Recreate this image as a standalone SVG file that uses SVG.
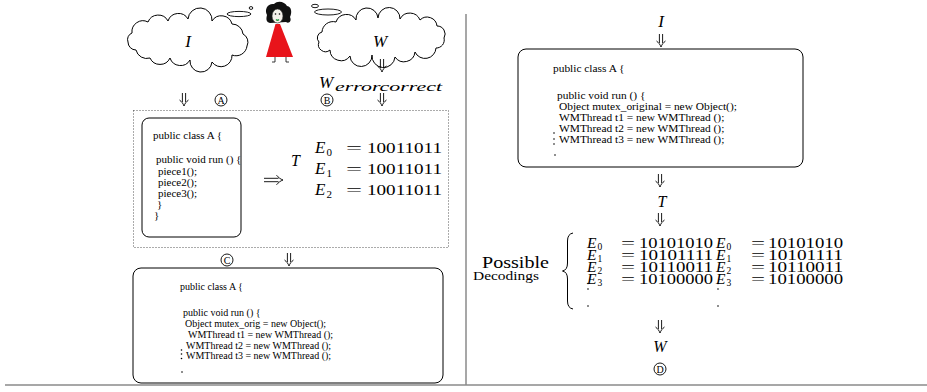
<svg xmlns="http://www.w3.org/2000/svg" xmlns:xlink="http://www.w3.org/1999/xlink" width="927" height="392" viewBox="0 0 927 392">
  <style>
    .code { font-family: "Liberation Serif", "Times New Roman", serif; font-size: 11px; fill: #000; }
    .code-r { font-family: "Liberation Serif", "Times New Roman", serif; font-size: 11.4px; fill: #000; }
    .code-s { font-family: "Liberation Serif", "Times New Roman", serif; font-size: 10px; fill: #000; }
    .math { font-family: "Liberation Serif", "Times New Roman", serif; font-size: 15px; fill: #000; }
    .var { font-family: "Liberation Serif", "Times New Roman", serif; font-size: 17px; font-style: italic; fill: #000; }
    .ev { font-family: "Liberation Serif", "Times New Roman", serif; font-size: 17px; font-style: italic; fill: #000; }
    .ev-s { font-family: "Liberation Serif", "Times New Roman", serif; font-size: 15.5px; font-style: italic; fill: #000; }
    .sub { font-family: "Liberation Serif", "Times New Roman", serif; font-size: 11px; fill: #000; }
    .sub-s { font-family: "Liberation Serif", "Times New Roman", serif; font-size: 9.5px; fill: #000; }
    .box { fill: #fff; stroke: #000; stroke-width: 1; }
    .cloud { fill: #fff; stroke: #000; stroke-width: 1; }
    .ring { fill: none; stroke: #000; stroke-width: 0.9; }
    .lbl { font-family: "Liberation Serif", "Times New Roman", serif; font-size: 10px; fill: #000; text-anchor: middle; }
    .arr { fill: none; stroke: #000; stroke-width: 0.9; }
    .rule { stroke: #8a8a8a; stroke-width: 1.5; }
    .dot { fill: #000; }
  </style>
  <defs>
    <!-- double down arrow, origin at top centre -->
    <g id="dn" class="arr">
      <path d="M-1.6,0 V9 M1.6,0 V9"/>
      <path d="M-4.5,7 C-2.4,8.6 -0.8,10.6 0,13 C0.8,10.6 2.4,8.6 4.5,7"/>
    </g>
    <!-- double right arrow, origin at left middle -->
    <g id="rt" class="arr">
      <path d="M0,-1.7 H14.5 M0,1.7 H14.5"/>
      <path d="M12.5,-4.8 C14.3,-2.6 16.4,-0.9 19,0 C16.4,0.9 14.3,2.6 12.5,4.8"/>
    </g>
  </defs>

  <rect width="927" height="392" fill="#fff"/>

  <!-- page rules -->
  <line class="rule" x1="466" y1="14" x2="466" y2="385"/>
  <line class="rule" x1="5" y1="385" x2="927" y2="385"/>

  <!-- thought cloud holding I -->
  <g id="cloud-i">
    <path class="cloud" d="M132,33 A11,11 0 0 1 148,22 A11,11 0 0 1 168,21 A11,11 0 0 1 188,19 A11,11 0 0 1 212,21 A11,11 0 0 1 232,24 A11,11 0 0 1 243,34 A9,9 0 0 1 247,46 A11,11 0 0 1 232,55 A11,11 0 0 1 212,62 A11,11 0 0 1 190,60 A11,11 0 0 1 170,58 A11,11 0 0 1 150,58 A11,11 0 0 1 136,50 A8,8 0 0 1 128,42 A7,7 0 0 1 132,33 Z"/>
    <ellipse class="ring" cx="239" cy="14" rx="12" ry="2.6"/>
    <ellipse class="ring" cx="251" cy="8" rx="1.8" ry="1.4"/>
    <text class="var" x="188" y="47" text-anchor="middle">I</text>
  </g>

  <!-- thought cloud holding W -->
  <g id="cloud-w">
    <path class="cloud" d="M322,32 A11,11 0 0 1 336,22 A11,11 0 0 1 356,20 A11,11 0 0 1 378,18 A11,11 0 0 1 400,19 A11,11 0 0 1 420,20 A10,10 0 0 1 437,26 A8,8 0 0 1 444,38 A8,8 0 0 1 436,48 A11,11 0 0 1 415,52 A11,11 0 0 1 395,57 A11,11 0 0 1 372,55 A11,11 0 0 1 350,56 A11,11 0 0 1 330,50 A7,7 0 0 1 319,42 A6,6 0 0 1 322,32 Z"/>
    <ellipse class="ring" cx="328" cy="12" rx="13.5" ry="3"/>
    <ellipse class="ring" cx="315" cy="6" rx="3.5" ry="1.7"/>
    <text class="var" x="380" y="47" text-anchor="middle">W</text>
  </g>

  <!-- the author figure -->
  <g id="author">
    <path d="M267,15 C264,9 268,3 274,4 C278,0 285,2 287,6 C292,7 292,13 290,17 C292,21 289,24 286,22 L270,23 C266,22 266,19 267,15 Z" fill="#111"/>
    <ellipse cx="277.5" cy="16" rx="5.5" ry="7" fill="#f4f1ea" stroke="#222" stroke-width="0.6"/>
    <circle class="dot" cx="275.5" cy="14" r="0.8"/>
    <circle class="dot" cx="279.5" cy="14" r="0.8"/>
    <path d="M276,19.5 Q277.5,21 279,19.5" fill="none" stroke="#1a9a3a" stroke-width="1.2"/>
    <path d="M275.5,24 L280,24 L293,57 L266,57 Z" fill="#e8141b"/>
    <path d="M275,57 V62 H272 M286,57 V62 H289" fill="none" stroke="#222" stroke-width="0.9"/>
  </g>

  <!-- W_errorcorrect label -->
  <g id="w-error">
    <text class="var" x="319" y="88">W</text>
    <text class="var" x="335" y="91" style="font-size:12px" textLength="107" lengthAdjust="spacingAndGlyphs">errorcorrect</text>
  </g>

  <!-- step markers -->
  <g id="marks">
    <circle class="ring" cx="221" cy="100" r="6"/>
    <text class="lbl" x="221" y="103.5">A</text>
    <circle class="ring" cx="327" cy="100" r="6"/>
    <text class="lbl" x="327" y="103.5">B</text>
    <circle class="ring" cx="227" cy="260" r="6"/>
    <text class="lbl" x="227" y="263.5">C</text>
    <circle class="ring" cx="660" cy="369" r="6"/>
    <text class="lbl" x="660" y="372.5">D</text>
  </g>

  <!-- embedding stage: dotted frame -->
  <g id="embed-frame">
    <rect x="133.5" y="110.5" width="315" height="137" fill="none" stroke="#444" stroke-width="0.9" stroke-dasharray="1 2"/>
  </g>

  <!-- original program -->
  <g id="prog-original">
    <rect class="box" x="142" y="118" width="99" height="119" rx="7"/>
    <text class="code" x="153" y="139">public class A {</text>
    <text class="code" x="156" y="163">public void run () {</text>
    <text class="code" x="158" y="175">piece1();</text>
    <text class="code" x="158" y="186">piece2();</text>
    <text class="code" x="158" y="197">piece3();</text>
    <text class="code" x="157" y="208">}</text>
    <text class="code" x="154" y="219">}</text>
  </g>

  <!-- traces produced by input T -->
  <g id="traces">
    <text class="var" x="291" y="166" style="font-size:16px">T</text>
    <text class="ev" x="315" y="153">E</text>
    <text class="sub" x="326.5" y="156">0</text>
    <text class="math" x="346" y="153" textLength="16" lengthAdjust="spacingAndGlyphs">=</text>
    <text class="math" x="367" y="153" textLength="75" lengthAdjust="spacingAndGlyphs">10011011</text>
    <text class="ev" x="315" y="174">E</text>
    <text class="sub" x="326.5" y="177">1</text>
    <text class="math" x="346" y="174" textLength="16" lengthAdjust="spacingAndGlyphs">=</text>
    <text class="math" x="367" y="174" textLength="75" lengthAdjust="spacingAndGlyphs">10011011</text>
    <text class="ev" x="315" y="195">E</text>
    <text class="sub" x="326.5" y="198">2</text>
    <text class="math" x="346" y="195" textLength="16" lengthAdjust="spacingAndGlyphs">=</text>
    <text class="math" x="367" y="195" textLength="75" lengthAdjust="spacingAndGlyphs">10011011</text>
  </g>

  <!-- watermarked program -->
  <g id="prog-watermarked">
    <rect class="box" x="133" y="268" width="310" height="115" rx="8"/>
    <text class="code-s" x="180" y="290">public class A {</text>
    <text class="code-s" x="183" y="316">public void run () {</text>
    <text class="code-s" x="185" y="327">Object mutex_orig = new Object();</text>
    <text class="code-s" x="188" y="338">WMThread t1 = new WMThread ();</text>
    <text class="code-s" x="186" y="349">WMThread t2 = new WMThread ();</text>
    <text class="code-s" x="186" y="359">WMThread t3 = new WMThread ();</text>
    <circle class="dot" cx="181.5" cy="350" r="0.8"/>
    <circle class="dot" cx="181.5" cy="354" r="0.8"/>
    <circle class="dot" cx="181.5" cy="358.5" r="0.8"/>
    <circle class="dot" cx="182" cy="372" r="0.8"/>
  </g>

  <!-- suspect program -->
  <g id="prog-suspect">
    <text class="var" x="661" y="27" text-anchor="middle">I</text>
    <rect class="box" x="518" y="49" width="285" height="118" rx="8"/>
    <text class="code-r" x="553" y="72">public class A {</text>
    <text class="code-r" x="557" y="99">public void run () {</text>
    <text class="code-r" x="559" y="110">Object mutex_original = new Object();</text>
    <text class="code-r" x="559" y="121">WMThread t1 = new WMThread ();</text>
    <text class="code-r" x="559" y="132">WMThread t2 = new WMThread ();</text>
    <text class="code-r" x="559" y="143">WMThread t3 = new WMThread ();</text>
    <circle class="dot" cx="554" cy="133" r="0.8"/>
    <circle class="dot" cx="554" cy="139" r="0.8"/>
    <circle class="dot" cx="554" cy="144" r="0.8"/>
    <circle class="dot" cx="555" cy="155" r="0.8"/>
    <text class="var" x="662" y="207" style="font-size:16px" text-anchor="middle">T</text>
  </g>

  <!-- possible decodings -->
  <g id="decodings">
    <text class="math" x="482" y="268" style="font-size:16.5px" textLength="67" lengthAdjust="spacingAndGlyphs">Possible</text>
    <text class="code" x="473" y="280" style="font-size:12.5px" textLength="66" lengthAdjust="spacingAndGlyphs">Decodings</text>
    <path d="M573,233 Q567.5,234 567.5,241 L567.5,263 Q567.5,270 562.5,271 Q567.5,272 567.5,279 L567.5,301 Q567.5,308 573,309" fill="none" stroke="#000" stroke-width="1"/>

    <text class="ev-s" x="587" y="248">E</text>
    <text class="sub-s" x="597.5" y="250">0</text>
    <text class="math" x="621" y="248" textLength="14" lengthAdjust="spacingAndGlyphs">=</text>
    <text class="math" x="639" y="248" textLength="74" lengthAdjust="spacingAndGlyphs">10101010</text>
    <text class="ev-s" x="716" y="248">E</text>
    <text class="sub-s" x="726.5" y="250">0</text>
    <text class="math" x="751" y="248" textLength="14" lengthAdjust="spacingAndGlyphs">=</text>
    <text class="math" x="768" y="248" textLength="75" lengthAdjust="spacingAndGlyphs">10101010</text>

    <text class="ev-s" x="587" y="260">E</text>
    <text class="sub-s" x="597.5" y="262">1</text>
    <text class="math" x="621" y="260" textLength="14" lengthAdjust="spacingAndGlyphs">=</text>
    <text class="math" x="639" y="260" textLength="74" lengthAdjust="spacingAndGlyphs">10101111</text>
    <text class="ev-s" x="716" y="260">E</text>
    <text class="sub-s" x="726.5" y="262">1</text>
    <text class="math" x="751" y="260" textLength="14" lengthAdjust="spacingAndGlyphs">=</text>
    <text class="math" x="768" y="260" textLength="75" lengthAdjust="spacingAndGlyphs">10101111</text>

    <text class="ev-s" x="587" y="272">E</text>
    <text class="sub-s" x="597.5" y="274">2</text>
    <text class="math" x="621" y="272" textLength="14" lengthAdjust="spacingAndGlyphs">=</text>
    <text class="math" x="639" y="272" textLength="74" lengthAdjust="spacingAndGlyphs">10110011</text>
    <text class="ev-s" x="716" y="272">E</text>
    <text class="sub-s" x="726.5" y="274">2</text>
    <text class="math" x="751" y="272" textLength="14" lengthAdjust="spacingAndGlyphs">=</text>
    <text class="math" x="768" y="272" textLength="75" lengthAdjust="spacingAndGlyphs">10110011</text>

    <text class="ev-s" x="587" y="284">E</text>
    <text class="sub-s" x="597.5" y="286">3</text>
    <text class="math" x="621" y="284" textLength="14" lengthAdjust="spacingAndGlyphs">=</text>
    <text class="math" x="639" y="284" textLength="74" lengthAdjust="spacingAndGlyphs">10100000</text>
    <text class="ev-s" x="716" y="284">E</text>
    <text class="sub-s" x="726.5" y="286">3</text>
    <text class="math" x="751" y="284" textLength="14" lengthAdjust="spacingAndGlyphs">=</text>
    <text class="math" x="768" y="284" textLength="75" lengthAdjust="spacingAndGlyphs">10100000</text>

    <circle class="dot" cx="588" cy="283.5" r="0.8"/>
    <circle class="dot" cx="588" cy="289" r="0.8"/>
    <circle class="dot" cx="588" cy="306" r="0.8"/>
    <circle class="dot" cx="718" cy="283.5" r="0.8"/>
    <circle class="dot" cx="718" cy="289" r="0.8"/>
    <circle class="dot" cx="718" cy="306" r="0.8"/>

    <text class="var" x="660" y="352" style="font-size:16px" text-anchor="middle">W</text>
  </g>

  <!-- connectors -->
  <g id="connectors">
    <use xlink:href="#dn" x="382" y="59"/>
    <use xlink:href="#dn" x="184" y="93"/>
    <use xlink:href="#dn" x="382" y="93"/>
    <use xlink:href="#rt" x="264" y="180"/>
    <use xlink:href="#dn" x="289" y="253"/>
    <use xlink:href="#dn" x="661" y="34"/>
    <use xlink:href="#dn" x="660" y="174"/>
    <use xlink:href="#dn" x="660" y="213"/>
    <use xlink:href="#dn" x="660" y="320"/>
  </g>
</svg>
